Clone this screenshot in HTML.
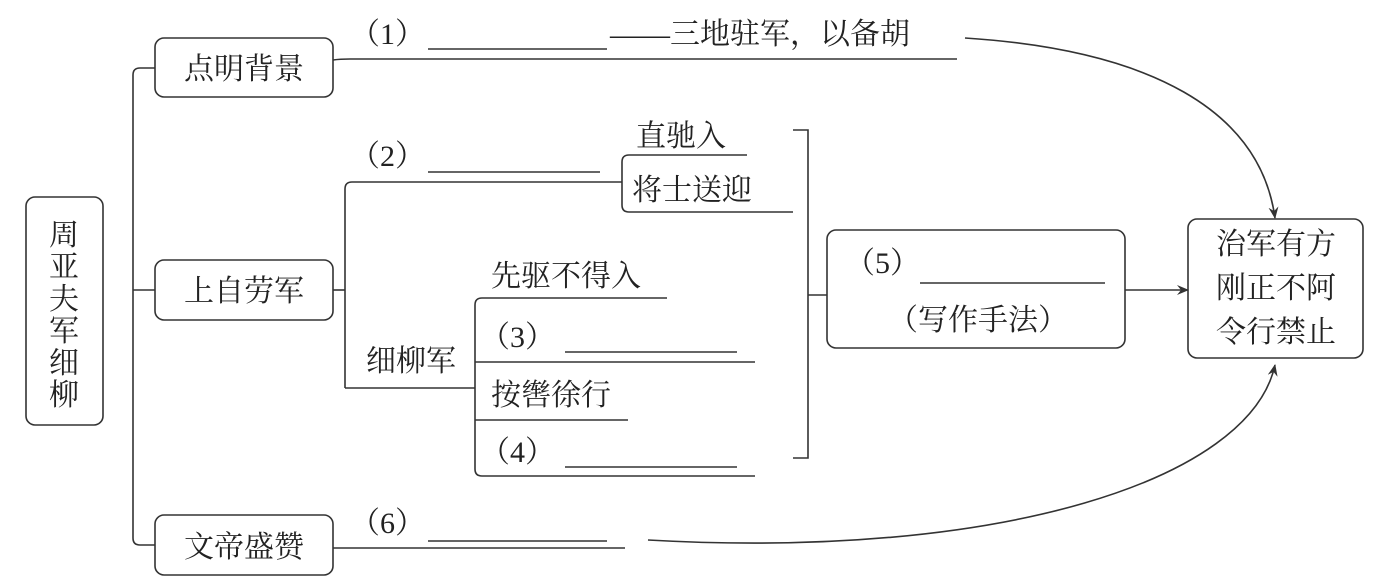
<!DOCTYPE html>
<html><head><meta charset="utf-8"><style>
html,body{margin:0;padding:0;background:#fff;}
svg{display:block;}
text{font-family:"Liberation Serif","Noto Serif CJK SC","Noto Sans CJK SC",serif;fill:#222;}
</style></head><body>
<svg width="1392" height="580" viewBox="0 0 1392 580" xmlns="http://www.w3.org/2000/svg">
<defs><marker id="a" markerWidth="12" markerHeight="10" refX="11" refY="5" orient="auto" markerUnits="userSpaceOnUse"><path d="M0,0 L12,5 L0,10 L4,5 Z" fill="#333"/></marker></defs>
<g fill="none" stroke="#333" stroke-width="1.6">
<rect x="26" y="197" width="77" height="228" rx="9"/>
<path d="M155,68 H140 Q133,68 133,75 V538 Q133,545 140,545 H155"/>
<path d="M133,290 H155" />
<rect x="155" y="38" width="178" height="59" rx="9"/>
<rect x="155" y="260" width="178" height="60" rx="9"/>
<rect x="155" y="515" width="178" height="60" rx="9"/>
<path d="M333,60 Q340,59 350,59 H957"/>
<path d="M428,49 H607"/>
<path d="M965,38 C1150,50 1260,110 1275,218" marker-end="url(#a)"/>
<path d="M333,290 H345"/>
<path d="M345,388 V189 Q345,182 352,182 H622"/>
<path d="M428,172 H600"/>
<path d="M747,155 H629 Q622,155 622,162 V205 Q622,212 629,212 H793"/>
<path d="M345,388 H475"/>
<path d="M667,298 H482 Q475,298 475,305 V469 Q475,476 482,476 H755"/>
<path d="M565,352 H737"/><path d="M475,362 H755"/>
<path d="M475,420 H628"/>
<path d="M565,467 H737"/>
<path d="M793,130 H808 V458 H793"/>
<path d="M808,295 H827"/>
<rect x="827" y="230" width="298" height="118" rx="9"/>
<path d="M920,283 H1105"/>
<path d="M1125,290 H1188" marker-end="url(#a)"/>
<rect x="1188" y="219" width="175" height="139" rx="9"/>
<path d="M333,548 H625"/>
<path d="M428,541 H607"/>
<path d="M648,540 C1000,560 1250,480 1275,365" marker-end="url(#a)"/>
</g>
<g font-size="30">
<text x="64" y="245" text-anchor="middle">周</text>
<text x="64" y="277" text-anchor="middle">亚</text>
<text x="64" y="309" text-anchor="middle">夫</text>
<text x="64" y="341" text-anchor="middle">军</text>
<text x="64" y="373" text-anchor="middle">细</text>
<text x="64" y="405" text-anchor="middle">柳</text>
</g>
<g font-size="30">
<text x="244" y="79" text-anchor="middle">点明背景</text>
<text x="244" y="301" text-anchor="middle">上自劳军</text>
<text x="244" y="557" text-anchor="middle">文帝盛赞</text>
<text x="350" y="44">（1）</text>
<text x="610" y="44">——三地驻军，以备胡</text>
<text x="350" y="166">（2）</text>
<text x="636" y="146">直驰入</text>
<text x="632" y="200">将士送迎</text>
<text x="491" y="286">先驱不得入</text>
<text x="366" y="371">细柳军</text>
<text x="480" y="347">（3）</text>
<text x="491" y="405">按辔徐行</text>
<text x="480" y="462">（4）</text>
<text x="845" y="273">（5）</text>
<text x="888" y="330">（写作手法）</text>
<text x="1276" y="254" text-anchor="middle">治军有方</text>
<text x="1276" y="298" text-anchor="middle">刚正不阿</text>
<text x="1276" y="342" text-anchor="middle">令行禁止</text>
<text x="350" y="533">（6）</text>
</g>
</svg>
</body></html>
